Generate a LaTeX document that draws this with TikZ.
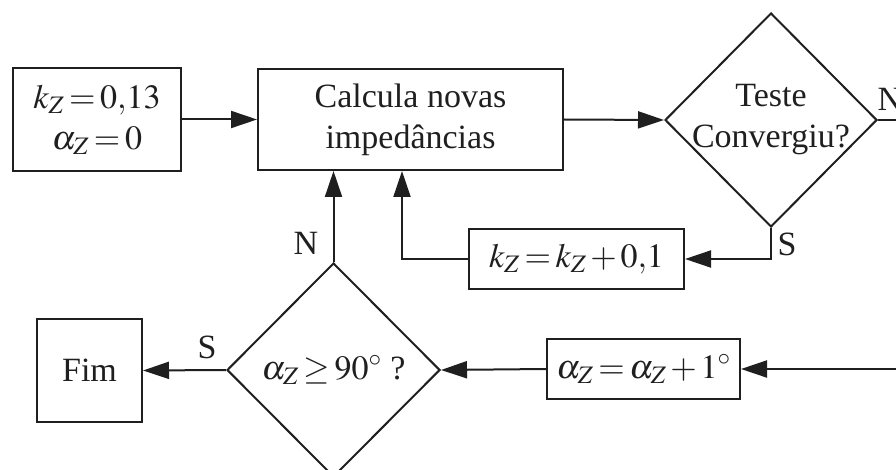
\documentclass[tikz,border=0pt]{standalone}
\usepackage{mathptmx}
\usepackage{fontspec}
\setmainfont{Liberation Serif}
\usetikzlibrary{arrows.meta,shapes.geometric}
\newcommand\bigfs{\fontsize{34}{41}\selectfont\thickmuskip=2.5mu plus 2mu\medmuskip=2mu plus 1mu}
\begin{document}
\begin{tikzpicture}[x=1pt,y=-1pt,line width=2pt,color=black!88,
  box/.style={draw,rectangle,inner sep=0pt,align=center,font=\bigfs},
  dec/.style={draw,diamond,inner sep=0pt},
  lbl/.style={inner sep=0pt,font=\bigfs},
  arr/.style={-{Triangle[length=26pt,width=17pt]}}]
\useasboundingbox (0,0) rectangle (896,470);
% boxes
\node[box,minimum width=168pt,minimum height=103pt] (b1) at (97,119.5) {$k_Z = 0{,}13$\\$\alpha_Z = 0$};
\node[box,minimum width=305pt,minimum height=101pt] (b2) at (410.5,119.5) {Calcula novas\\impedâncias};
\node[box,minimum width=215pt,minimum height=60pt] (b3) at (576.5,259) {$k_Z = k_Z + 0{,}1$};
\node[box,minimum width=193pt,minimum height=60pt] (b4) at (643.5,369) {$\alpha_Z = \alpha_Z + 1^\circ$};
\node[box,minimum width=105pt,minimum height=103pt] (fim) at (89.5,370.5) {Fim};
% decisions
\node[dec,minimum width=212pt,minimum height=214pt] (d1) at (771,120) {};
\node[lbl,align=center] (t1) at (d1.center) {Teste\\Convergiu?};
\node[dec,minimum width=213pt,minimum height=214pt] (d2) at (333.5,370) {};
\node[lbl] (t2) at (d2.center) {$\alpha_Z \geq 90^\circ$ ?};
% off-picture ends
\coordinate (rN) at (896,120);
\coordinate (rIn) at (896,369);
% connectors
\draw[arr] (b1.east) -- (b2.west);
\draw[arr] (b2.east) -- (d1.west);
\draw (d1.east) -- (rN);
\draw[arr] (d1.south) |- (b3.east);
\draw[arr] (b3.west) -| ([xshift=-8.5pt]b2.south);
\draw[arr] (d2.north) -- (d2.north |- b2.south);
\draw[arr] (d2.west) -- (fim.east);
\draw[arr] (b4.west) -- (d2.east);
\draw[arr] (rIn) -- (b4.east);
% labels
\node[lbl] (ln1) at (890,99) {N};
\node[lbl] (ls1) at (787,244) {S};
\node[lbl] (ln2) at (306,243) {N};
\node[lbl] (ls2) at (207,347) {S};
\end{tikzpicture}
\end{document}
